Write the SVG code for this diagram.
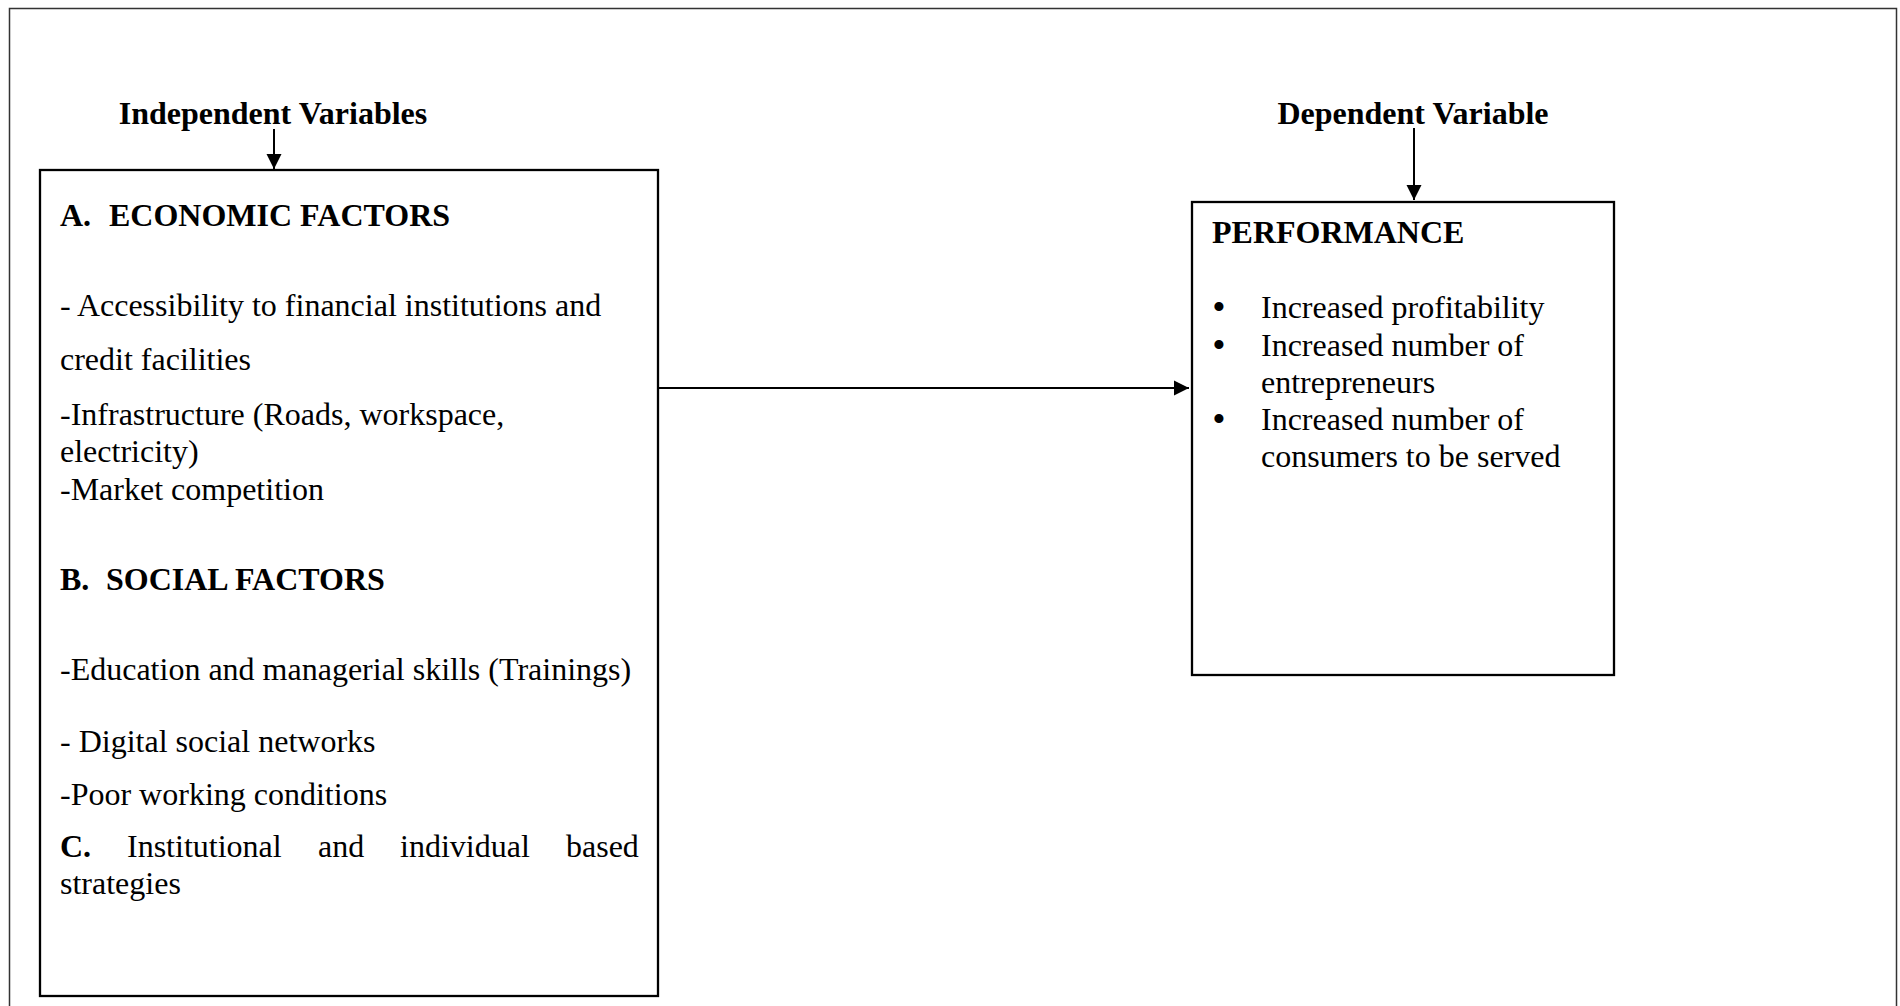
<svg xmlns="http://www.w3.org/2000/svg" width="1900" height="1006" viewBox="0 0 1900 1006">
  <style>
    text { font-family: "Liberation Serif", "Times New Roman", serif; font-size: 32px; fill: #000; }
    .b { font-weight: bold; }
    .box { fill: #fff; stroke: #000; stroke-width: 2.3; }
    .frame { fill: none; stroke: #333; stroke-width: 1.5; }
    .conn { stroke: #000; stroke-width: 2; fill: none; }
    .bul { font-size: 38px; text-anchor: middle; }
  </style>
  <defs>
    <marker id="arr" markerUnits="userSpaceOnUse" markerWidth="16" markerHeight="16" viewBox="0 0 16 16" refX="15" refY="8" orient="auto">
      <path d="M0,0.5 L15,8 L0,15.5 Z" fill="#000"/>
    </marker>
  </defs>
  <rect width="1900" height="1006" fill="#fff"/>
  <rect class="frame" x="9.5" y="8.5" width="1887" height="1100"/>

  <g id="label-independent">
    <text class="b" x="273" y="124" text-anchor="middle">Independent Variables</text>
  </g>
  <g id="label-dependent">
    <text class="b" x="1413" y="124" text-anchor="middle">Dependent Variable</text>
  </g>

  <g id="node-independent">
    <rect class="box" x="40" y="170" width="618" height="826"/>
    <text class="b" x="60" y="226">A.<tspan x="109">ECONOMIC FACTORS</tspan></text>
    <text x="60" y="316">- Accessibility to financial institutions and</text>
    <text x="60" y="370">credit facilities</text>
    <text x="60" y="425">-Infrastructure (Roads, workspace,</text>
    <text x="60" y="462">electricity)</text>
    <text x="60" y="500">-Market competition</text>
    <text class="b" x="60" y="590">B.<tspan x="106">SOCIAL FACTORS</tspan></text>
    <text x="60" y="680">-Education and managerial skills (Trainings)</text>
    <text x="60" y="752">- Digital social networks</text>
    <text x="60" y="805">-Poor working conditions</text>
    <text x="60" y="857"><tspan class="b" font-weight="bold">C.</tspan><tspan x="127">Institutional</tspan><tspan x="318">and</tspan><tspan x="400">individual</tspan><tspan x="566">based</tspan></text>
    <text x="60" y="894">strategies</text>
  </g>

  <g id="node-dependent">
    <rect class="box" x="1192" y="202" width="422" height="473"/>
    <text class="b" x="1212" y="243">PERFORMANCE</text>
    <text class="bul" x="1219" y="320">•</text>
    <text x="1261" y="318">Increased profitability</text>
    <text class="bul" x="1219" y="358">•</text>
    <text x="1261" y="356">Increased number of</text>
    <text x="1261" y="393">entrepreneurs</text>
    <text class="bul" x="1219" y="432">•</text>
    <text x="1261" y="430">Increased number of</text>
    <text x="1261" y="467">consumers to be served</text>
  </g>

  <g id="connectors">
    <line class="conn" x1="274" y1="129" x2="274" y2="169" marker-end="url(#arr)"/>
    <line class="conn" x1="1414" y1="128" x2="1414" y2="200" marker-end="url(#arr)"/>
    <line class="conn" x1="659" y1="388" x2="1189" y2="388" marker-end="url(#arr)"/>
  </g>
</svg>
